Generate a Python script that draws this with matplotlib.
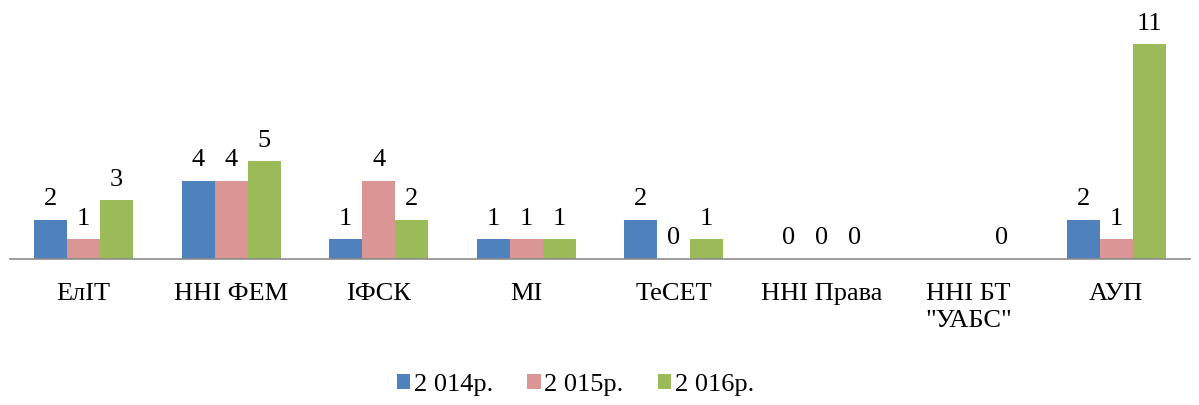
import numpy as np
import matplotlib
matplotlib.use("Agg")
import matplotlib.pyplot as plt

plt.rcParams['font.family'] = ['Liberation Serif', 'DejaVu Serif']

categories = ["ЕлІТ", "ННІ ФЕМ", "ІФСК", "МІ", "ТеСЕТ", "ННІ Права", "ННІ БТ\n\"УАБС\"", "АУП"]
series_names = ["2 014р.", "2 015р.", "2 016р."]
y2014 = [2, 4, 1, 1, 2, 0, np.nan, 2]
y2015 = [1, 4, 4, 1, 0, 0, np.nan, 1]
y2016 = [3, 5, 2, 1, 1, 0, 0, 11]
colors = ["#4F81BD", "#D99694", "#9BBB59"]

fig = plt.figure(figsize=(11.99, 4.05), dpi=100)
ax = fig.add_axes([0.0083, 0.3605, 0.9842, 0.578])

x = np.arange(len(categories))
w = 0.224
for i, (vals, name) in enumerate(zip([y2014, y2015, y2016], series_names)):
    pos = x + (i - 1) * w
    ax.bar(pos, vals, width=w, color=colors[i], label=name)
    for p, v in zip(pos, vals):
        if np.isnan(v):
            continue
        ax.annotate(f"{int(v)}", (p, v), xytext=(0, 7), textcoords="offset points",
                    ha="center", va="bottom", fontsize=19)

ax.set_xlim(-0.5, len(categories) - 0.5)
ax.set_ylim(0, 12)
ax.set_yticks([])
ax.set_xticks(x)
ax.set_xticklabels(categories, fontsize=19, va="top", linespacing=1.3)
ax.tick_params(axis="x", length=0, pad=17)
for s in ["top", "right", "left"]:
    ax.spines[s].set_visible(False)
ax.spines["bottom"].set_color("#8C8C8C")
ax.spines["bottom"].set_linewidth(1.2)

fig.legend(loc="center", bbox_to_anchor=(0.48, 0.05), ncol=3, frameon=False,
           fontsize=19, handlelength=0.5, handleheight=0.5, handletextpad=0.15,
           columnspacing=1.3)

fig.savefig("out.png", dpi=100)
